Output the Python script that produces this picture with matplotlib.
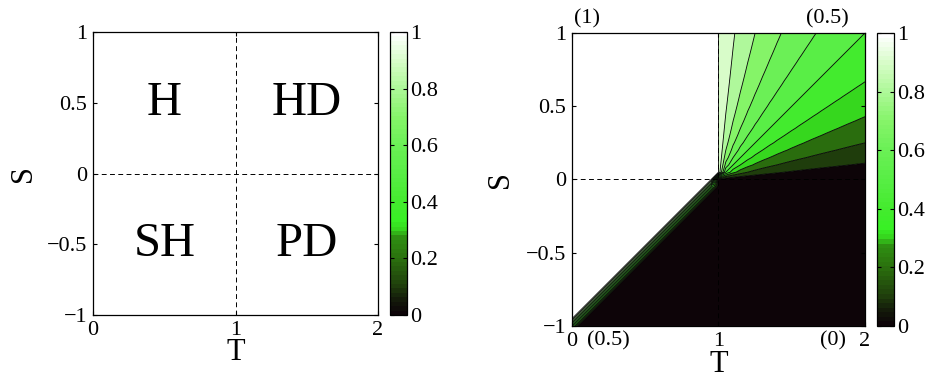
import numpy as np
import matplotlib
matplotlib.use('Agg')
import matplotlib.pyplot as plt
from matplotlib.colors import LinearSegmentedColormap, Normalize
from matplotlib.cm import ScalarMappable

plt.rcParams['font.family'] = ['Liberation Serif', 'DejaVu Serif']
plt.rcParams['axes.unicode_minus'] = True

# ---------------- data ----------------
T_limits = [0.0, 2.0]
S_limits = [-1.0, 1.0]
grid_points = 41                      # sampling of the (T, S) plane
contour_levels = [0.0, 0.1, 0.2, 0.3, 0.4, 0.5, 0.6, 0.7, 0.8, 0.9, 1.0]
initial_fraction = 0.5                # initial fraction of cooperators

quadrant_labels = ['H', 'HD', 'SH', 'PD']
quadrant_T = [0.5, 1.5, 0.5, 1.5]
quadrant_S = [0.5, 0.5, -0.5, -0.5]

x_ticks = [0, 1, 2]
x_ticklabels = ['0', '1', '2']
y_ticks = [-1, -0.5, 0, 0.5, 1]
y_ticklabels = ['\u22121', '\u22120.5', '0', '0.5', '1']
cbar_ticks = [0, 0.2, 0.4, 0.6, 0.8, 1]
cbar_ticklabels = ['0', '0.2', '0.4', '0.6', '0.8', '1']

top_notes = ['(1)', '(0.5)']
top_notes_T = [0.10, 1.74]
bottom_notes = ['(0.5)', '(0)']
bottom_notes_T = [0.25, 1.78]

# ---------------- colormap (style) ----------------
cmap_anchors = [
    (0.00, '#0d0408'), (0.05, '#141c0a'), (0.10, '#20400c'), (0.20, '#2b720e'),
    (0.27, '#2e8f12'), (0.30, '#36d61e'), (0.33, '#38f025'), (0.40, '#44eb2e'),
    (0.50, '#58ee45'), (0.60, '#6af055'), (0.70, '#85f468'), (0.80, '#abf896'),
    (0.90, '#d6fcc6'), (1.00, '#ffffff')]
cmap = LinearSegmentedColormap.from_list('greens_bw', cmap_anchors, N=64)
norm = Normalize(0, 1)

# ---------------- field: stationary cooperator fraction ----------------
T = np.round(np.linspace(T_limits[0], T_limits[1], grid_points), 10)
S = np.round(np.linspace(S_limits[0], S_limits[1], grid_points), 10)
TT, SS = np.meshgrid(T, S)
with np.errstate(divide='ignore', invalid='ignore'):
    mixed = SS / (SS + TT - 1)
field = np.zeros_like(TT)
reg_H = (SS > 0) & (TT <= 1)
reg_HD = (SS > 0) & (TT > 1)
reg_SH = (SS <= 0) & (TT < 1)
field[reg_H] = 1.0
field[reg_HD] = mixed[reg_HD]
with np.errstate(divide='ignore', invalid='ignore'):
    thr = np.where(reg_SH, mixed, 0)
field[reg_SH & (thr < initial_fraction - 1e-9)] = 1.0
field[reg_SH & (np.abs(thr - initial_fraction) <= 1e-9)] = initial_fraction

# ---------------- figure ----------------
fig = plt.figure(figsize=(9.32, 3.81), dpi=100)
ax1 = fig.add_axes([0.0998, 0.1732, 0.3058, 0.7428])
cax1 = fig.add_axes([0.4185, 0.1732, 0.01824, 0.7428])
ax2 = fig.add_axes([0.6137, 0.1444, 0.3144, 0.7690])
cax2 = fig.add_axes([0.9410, 0.1444, 0.01824, 0.7690])

tick_fs = 16
dash = (0, (5, 3.5))


def style_axes(ax):
    ax.set_xlim(T_limits)
    ax.set_ylim(S_limits)
    ax.set_xticks(x_ticks)
    ax.set_xticklabels(x_ticklabels)
    ax.set_yticks(y_ticks)
    ax.set_yticklabels(y_ticklabels)
    ax.tick_params(direction='in', top=True, right=True, length=3,
                   width=0.8, labelsize=tick_fs)
    ax.tick_params(axis='x', pad=4)
    ax.tick_params(axis='y', pad=4)
    for sp in ax.spines.values():
        sp.set_linewidth(0.9)
    ax.text(-0.245, 0.5, 'S', transform=ax.transAxes, rotation=90,
            ha='center', va='center', fontsize=22)
    ax.text(0.5, -0.082, 'T', transform=ax.transAxes,
            ha='center', va='top', fontsize=22)


def style_cbar(cax):
    cb = fig.colorbar(ScalarMappable(norm=norm, cmap=cmap), cax=cax,
                      ticks=cbar_ticks)
    cb.set_ticklabels(cbar_ticklabels)
    cax.tick_params(direction='in', left=True, right=True, length=3,
                    width=0.8, labelsize=tick_fs, pad=2)
    cb.outline.set_linewidth(0.9)
    return cb


# left panel
style_axes(ax1)
ax1.axvline(1, color='black', lw=0.7, linestyle=dash)
ax1.axhline(0, color='black', lw=0.7, linestyle=dash)
for lab, t, s in zip(quadrant_labels, quadrant_T, quadrant_S):
    ax1.text(t, s, lab, ha='center', va='center', fontsize=35)
style_cbar(cax1)

# right panel
fill_bounds = [-0.001] + contour_levels[1:-1] + [0.9999, 1.001]
fill_colors = [cmap(norm(v)) for v in contour_levels]
ax2.contourf(TT, SS, field, levels=fill_bounds, colors=fill_colors,
             antialiased=True)
ax2.contour(TT, SS, field, levels=contour_levels[1:-1] + [0.9999],
            colors='black', linewidths=0.6)
ax2.axvline(1, color='black', lw=0.7, linestyle=dash, zorder=3)
ax2.axhline(0, color='black', lw=0.7, linestyle=dash, zorder=3)
style_axes(ax2)
for lab, t in zip(top_notes, top_notes_T):
    ax2.annotate(lab, xy=(t, 1), xycoords=('data', 'axes fraction'),
                 xytext=(0, 3), textcoords='offset points',
                 ha='center', va='bottom', fontsize=tick_fs)
for lab, t in zip(bottom_notes, bottom_notes_T):
    ax2.annotate(lab, xy=(t, 0), xycoords=('data', 'axes fraction'),
                 xytext=(0, -4), textcoords='offset points',
                 ha='center', va='top', fontsize=tick_fs)
style_cbar(cax2)

fig.savefig('out.png', dpi=100)
